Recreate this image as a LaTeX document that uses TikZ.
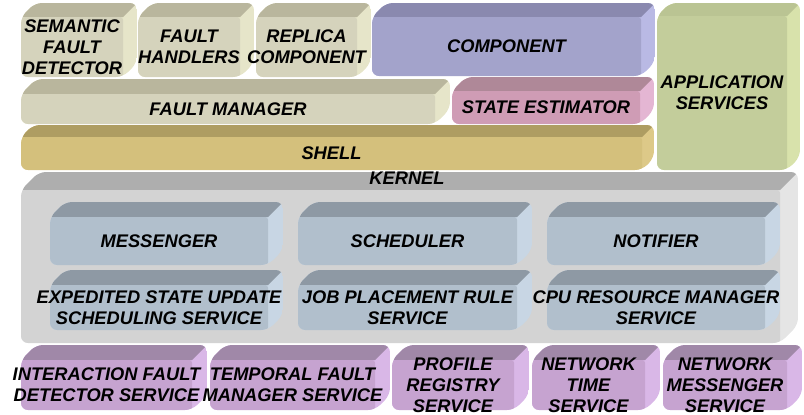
\documentclass[tikz,border=0pt]{standalone}
\usepackage{fontspec}
\setsansfont{Liberation Sans}

% face colours: front, top, side
\definecolor{tanfront}{HTML}{D5D3BC}
\definecolor{tantop}{HTML}{B9B69D}
\definecolor{tanside}{HTML}{E6E5C9}
\definecolor{compfront}{HTML}{A3A3CB}
\definecolor{comptop}{HTML}{8A89AF}
\definecolor{compside}{HTML}{B9B9E4}
\definecolor{statefront}{HTML}{CF9CB5}
\definecolor{statetop}{HTML}{AF8898}
\definecolor{stateside}{HTML}{E4B6D3}
\definecolor{shellfront}{HTML}{D4C07C}
\definecolor{shelltop}{HTML}{AE9D62}
\definecolor{shellside}{HTML}{DDC988}
\definecolor{appfront}{HTML}{C3CD9B}
\definecolor{apptop}{HTML}{BAC493}
\definecolor{appside}{HTML}{D8E2AB}
\definecolor{kernfront}{HTML}{D3D3D3}
\definecolor{kerntop}{HTML}{AEAEAE}
\definecolor{kernside}{HTML}{E5E5E5}
\definecolor{svcfront}{HTML}{B1BFCC}
\definecolor{svctop}{HTML}{8E99A4}
\definecolor{svcside}{HTML}{C8D6E4}
\definecolor{netfront}{HTML}{C6A3D0}
\definecolor{nettop}{HTML}{A088A8}
\definecolor{netside}{HTML}{D9B7E7}

\tikzset{
  blocktext/.style={inner sep=0pt, align=center,
    font=\sffamily\bfseries\itshape\fontsize{13}{15}\selectfont},
}

% bevelled block: [depth] name, colour set, left, top, right, bottom, text
\newcommand{\slab}[8][14]{%
  \begin{scope}
    \clip[rounded corners=5pt] (#4,#5+#1) -- (#4+#1,#5) -- (#6,#5) -- (#6,#7-#1) -- (#6-#1,#7) -- (#4,#7) -- cycle;
    \fill[#3side] (#4,#5) rectangle (#6,#7);
    \fill[#3top] (#4,#5+#1) -- (#4+#1,#5) -- (#6,#5) -- (#6-#1,#5+#1) -- cycle;
    \fill[#3front, rounded corners=2pt] (#4,#5+#1) rectangle (#6-#1,#7);
  \end{scope}
  \node[blocktext] (#2) at ({(#4+#6-#1)/2},{(#5+#1+#7)/2}) {#8};
}

\begin{document}
\begin{tikzpicture}[x=0.025cm, y=-0.025cm]
    \useasboundingbox (0,0) rectangle (804,415);

    % Top row
    \slab{sfd}{tan}{21}{3}{137}{77}{SEMANTIC\\FAULT\\DETECTOR}
    \slab{handlers}{tan}{138}{3}{254}{77}{FAULT\\HANDLERS}
    \slab{replica}{tan}{256}{3}{371}{77}{REPLICA\\COMPONENT}
    \slab{component}{comp}{372}{3}{655}{76}{COMPONENT}
    \slab[13]{appsvc}{app}{657}{3}{800}{170}{APPLICATION\\SERVICES}

    % Manager layers
    \slab[15]{faultmgr}{tan}{21}{79}{450}{124}{FAULT MANAGER}
    \slab{stateest}{state}{452}{77}{654}{124}{STATE ESTIMATOR}
    \slab[12]{shell}{shell}{21}{125}{654}{170}{SHELL}

    % Kernel
    \slab[18]{kernel}{kern}{21}{172}{798}{343}{}
    \node[blocktext] (kernellbl) at (407,178) {KERNEL};

    % Kernel services
    \slab[15]{messenger}{svc}{50}{202}{283}{265}{MESSENGER}
    \slab[15]{scheduler}{svc}{298}{202}{532}{265}{SCHEDULER}
    \slab[15]{notifier}{svc}{547}{202}{780}{265}{NOTIFIER}
    \slab[15]{esus}{svc}{50}{270}{283}{330}{EXPEDITED STATE UPDATE\\SCHEDULING SERVICE}
    \slab[15]{jobrule}{svc}{298}{270}{532}{330}{JOB PLACEMENT RULE\\SERVICE}
    \slab[15]{cpumgr}{svc}{547}{270}{780}{330}{CPU RESOURCE MANAGER\\SERVICE}

    % Network services
    \slab[15]{ifd}{net}{21}{345}{207}{410}{INTERACTION FAULT\\DETECTOR SERVICE}
    \slab[15]{tfm}{net}{210}{345}{390}{410}{TEMPORAL FAULT\\MANAGER SERVICE}
    \slab[15]{profile}{net}{392}{345}{529}{410}{PROFILE\\REGISTRY\\SERVICE}
    \slab[15]{ntime}{net}{532}{345}{660}{410}{NETWORK\\TIME\\SERVICE}
    \slab[15]{netmsg}{net}{663}{345}{802}{410}{NETWORK\\MESSENGER\\SERVICE}
\end{tikzpicture}
\end{document}
